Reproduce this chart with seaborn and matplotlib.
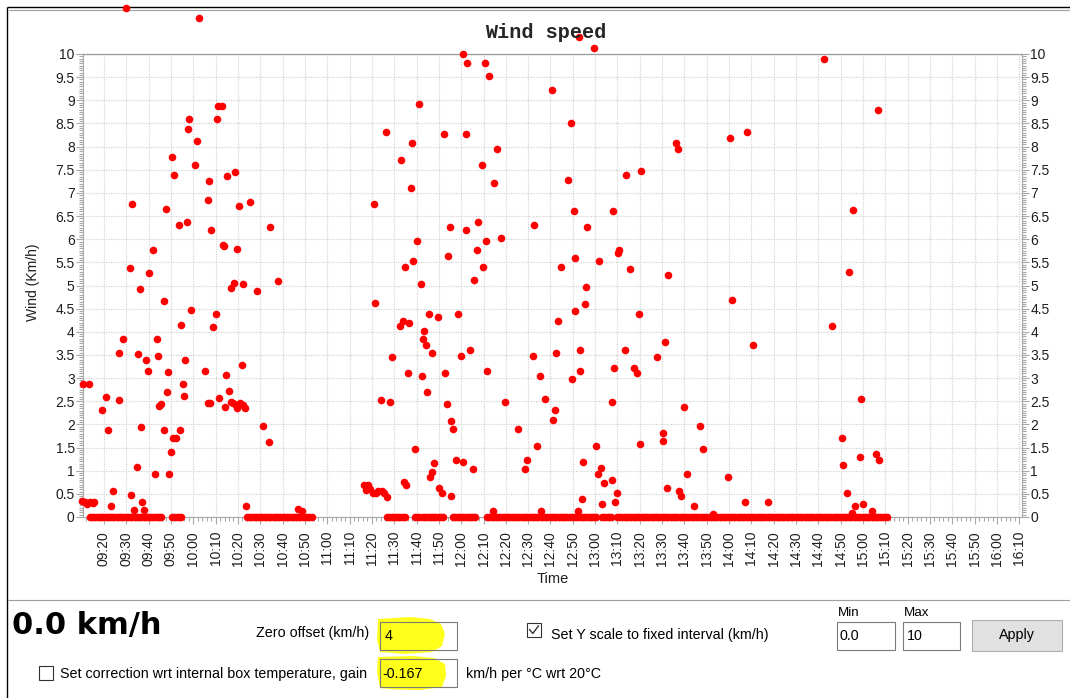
import numpy as np
import pandas as pd
import matplotlib
matplotlib.use("Agg")
import matplotlib.pyplot as plt
import matplotlib.dates as mdates
from matplotlib.ticker import MultipleLocator, FuncFormatter
from matplotlib.patches import Rectangle, Polygon
import seaborn as sns

# ---------------------------------------------------------------------------
# Wind readings (km/h) logged during the session
# ---------------------------------------------------------------------------
morning_times = [
    "09:10:06", "09:10:24", "09:11:30", "09:12:30", "09:13:24", "09:13:42", "09:14:54", "09:15:36",
    "09:19:06", "09:20:54", "09:21:54", "09:23:06", "09:23:54", "09:26:36", "09:26:54", "09:28:42",
    "09:29:54", "09:31:36", "09:32:12", "09:32:42", "09:33:36", "09:34:36", "09:35:06", "09:36:00",
    "09:36:36", "09:37:00", "09:37:48", "09:38:42", "09:39:30", "09:40:12", "09:42:00", "09:43:00",
    "09:43:36", "09:44:18", "09:44:48", "09:45:42", "09:46:42", "09:47:00", "09:47:54", "09:48:06",
    "09:48:30", "09:49:06", "09:49:54", "09:50:30", "09:50:54", "09:51:30", "09:52:24", "09:53:30",
    "09:54:12", "09:54:36", "09:55:12", "09:55:48", "09:56:24", "09:57:00", "09:57:30", "09:58:12",
    "09:58:48", "10:00:36", "10:01:48", "10:02:24", "10:05:24", "10:06:30", "10:06:42", "10:07:12",
    "10:07:36", "10:07:48", "10:09:00", "10:10:12", "10:10:48", "10:11:12", "10:11:30", "10:12:42",
    "10:13:12", "10:13:54", "10:14:06", "10:14:30", "10:15:06", "10:15:54", "10:16:54", "10:17:00",
    "10:17:42", "10:18:06", "10:18:42", "10:19:06", "10:19:24", "10:19:42", "10:20:30", "10:20:54",
    "10:21:42", "10:22:06", "10:22:24", "10:23:18", "10:23:36", "10:25:24", "10:28:24", "10:31:24",
    "10:33:54", "10:34:30", "10:38:06", "10:47:06", "10:48:36",
]
morning_speeds = [
    0.35, 2.87, 0.32, 0.28, 2.87, 0.33, 0.30, 0.32,
    2.32, 2.59, 1.88, 0.24, 0.57, 3.55, 2.53, 3.84,
    10.99, 5.38, 0.48, 6.75, 0.16, 1.09, 3.51, 4.92,
    1.94, 0.33, 0.16, 3.39, 3.15, 5.26, 5.76, 0.92,
    3.84, 3.48, 2.40, 2.43, 1.88, 4.67, 6.66, 2.70,
    3.13, 0.92, 1.41, 7.77, 1.70, 7.39, 1.70, 6.31,
    1.88, 4.15, 2.87, 2.61, 3.39, 6.37, 8.38, 8.59,
    4.47, 7.60, 8.12, 10.77, 3.16, 2.46, 6.84, 7.25,
    2.46, 6.20, 4.10, 4.39, 8.59, 8.88, 2.58, 8.88,
    5.88, 5.85, 2.38, 3.07, 7.37, 2.73, 4.95, 2.49,
    2.46, 5.06, 7.45, 2.41, 5.79, 2.35, 6.72, 2.46,
    3.28, 2.41, 5.03, 2.35, 0.24, 6.80, 4.89, 1.97,
    1.61, 6.26, 5.09, 0.17, 0.13,
]

midday_times = [
    "11:16:36", "11:17:24", "11:18:24", "11:19:12", "11:20:42", "11:21:00", "11:21:12", "11:21:54",
    "11:22:54", "11:24:00", "11:24:24", "11:25:24", "11:26:18", "11:26:54", "11:28:06", "11:28:54",
    "11:32:36", "11:33:00", "11:33:48", "11:34:30", "11:35:00", "11:35:30", "11:36:18", "11:36:48",
    "11:37:24", "11:37:54", "11:38:36", "11:39:30", "11:40:24", "11:41:00", "11:42:12", "11:42:24",
    "11:42:42", "11:43:24", "11:44:06", "11:44:36", "11:45:42", "11:46:00", "11:46:48", "11:47:00",
    "11:48:00", "11:49:30", "11:50:06", "11:51:18", "11:52:30", "11:52:42", "11:53:48", "11:54:18",
    "11:54:54", "11:55:18", "11:55:30", "11:56:18", "11:57:42", "11:58:36", "11:59:48", "12:00:48",
    "12:00:54", "12:02:00", "12:02:12", "12:02:48", "12:04:00", "12:05:12", "12:05:48", "12:06:54",
    "12:07:24", "12:09:24", "12:09:54", "12:10:36", "12:11:06", "12:11:42", "12:12:24", "12:14:06",
    "12:14:42", "12:15:54", "12:17:42", "12:19:30",
]
midday_speeds = [
    0.69, 0.58, 0.69, 0.60, 0.52, 6.75, 4.63, 0.52,
    0.57, 2.52, 0.57, 0.52, 8.32, 0.44, 2.49, 3.46,
    4.13, 7.71, 4.24, 0.75, 5.41, 0.69, 3.10, 4.18,
    7.10, 8.07, 5.53, 1.47, 5.97, 8.91, 5.03, 3.05,
    3.84, 4.01, 3.72, 2.69, 4.38, 0.86, 0.97, 3.54,
    1.17, 4.33, 0.63, 0.51, 8.27, 3.10, 2.43, 5.64,
    6.26, 0.45, 2.08, 1.91, 1.23, 4.38, 3.48, 10.01,
    1.18, 8.27, 6.20, 9.81, 3.60, 1.03, 5.12, 5.76,
    6.37, 7.60, 5.41, 9.81, 5.97, 3.16, 9.52, 0.13,
    7.21, 7.95, 6.03, 2.49,
]

afternoon_times = [
    "12:25:36", "12:28:36", "12:29:18", "12:32:12", "12:32:24", "12:34:00", "12:35:18", "12:35:36",
    "12:37:42", "12:40:42", "12:41:18", "12:42:06", "12:42:36", "12:43:12", "12:44:54", "12:48:00",
    "12:49:12", "12:49:48", "12:50:36", "12:50:48", "12:51:12", "12:52:12", "12:52:42", "12:53:00",
    "12:53:24", "12:54:06", "12:54:30", "12:55:30", "12:56:00", "12:56:12", "12:59:30", "13:00:36",
    "13:01:12", "13:01:54", "13:02:30", "13:03:06", "13:03:48", "13:07:24", "13:07:36", "13:07:54",
    "13:08:36", "13:09:00", "13:09:42", "13:10:18", "13:10:54", "13:13:24", "13:13:54", "13:15:48",
    "13:17:36", "13:18:48", "13:19:30", "13:20:00", "13:20:42", "13:27:54", "13:30:18", "13:30:30",
    "13:31:30", "13:32:00", "13:32:48", "13:36:18", "13:37:00", "13:37:24", "13:38:24", "13:40:00",
    "13:41:06", "13:44:06", "13:47:00", "13:48:30", "13:52:42", "13:59:24", "14:00:30", "14:01:12",
    "14:07:12", "14:07:48", "14:10:48", "14:17:36", "14:42:18", "14:46:00", "14:50:36", "14:50:54",
    "14:53:00", "14:53:48", "14:54:54", "14:55:36", "14:56:12", "14:58:42", "14:59:18", "14:59:54",
    "15:04:06", "15:05:42", "15:06:30", "15:07:06",
]
afternoon_speeds = [
    1.91, 1.03, 1.23, 3.48, 6.31, 1.53, 3.05, 0.13,
    2.55, 9.23, 2.09, 2.32, 3.54, 4.24, 5.41, 7.27,
    8.50, 2.99, 6.61, 5.59, 4.44, 0.14, 10.37, 3.16,
    3.60, 0.39, 1.18, 4.61, 4.97, 6.26, 10.14, 1.53,
    0.92, 5.53, 1.06, 0.27, 0.74, 0.80, 2.49, 6.61,
    3.22, 0.33, 0.51, 5.70, 5.76, 3.60, 7.39, 5.35,
    3.22, 3.10, 4.38, 1.58, 7.48, 3.46, 1.82, 1.64,
    3.77, 0.63, 5.23, 8.07, 7.95, 0.57, 0.45, 2.38,
    0.92, 0.24, 1.97, 1.47, 0.06, 0.86, 8.18, 4.68,
    0.33, 8.32, 3.71, 0.33, 9.90, 4.13, 1.70, 1.12,
    0.51, 5.29, 0.08, 6.63, 0.24, 1.30, 2.55, 0.28,
    0.14, 1.36, 8.79, 1.23,
]

# Stretches where every logged reading was 0 km/h (one reading per minute)
calm_spans = [
    ("09:13:42", "09:46:00"),
    ("09:50:30", "09:55:00"),
    ("10:24:00", "10:53:36"),
    ("11:26:48", "11:34:54"),
    ("11:39:18", "11:41:36"),
    ("11:42:54", "11:52:48"),
    ("11:56:24", "12:07:06"),
    ("12:11:36", "13:01:18"),
    ("13:03:06", "13:07:36"),
    ("13:09:48", "15:10:48"),
]
log_interval = "1min"

time_window = ("09:10:36", "16:11:12")
y_scale_min, y_scale_max = 0.0, 10.0

# Form fields shown under the chart
current_speed = "0.0 km/h"
zero_offset = "4"
temperature_gain = "-0.167"
y_min_field = "0.0"
y_max_field = "10"

# ---------------------------------------------------------------------------
day = "1900-01-01 "


def stamp(t):
    return pd.Timestamp(day + t)


gusts = pd.DataFrame({
    "time": [stamp(t) for t in morning_times + midday_times + afternoon_times],
    "speed": morning_speeds + midday_speeds + afternoon_speeds,
})
calm_times = np.concatenate([
    pd.date_range(stamp(a), stamp(b), freq=log_interval).values for a, b in calm_spans
])
calm = pd.DataFrame({"time": pd.to_datetime(calm_times), "speed": 0.0})
readings = pd.concat([gusts, calm], ignore_index=True).sort_values("time")

sns.set_theme(style="white")
plt.rcParams["font.family"] = ["Liberation Sans", "DejaVu Sans"]

W, H = 1070, 698
fig = plt.figure(figsize=(W / 100, H / 100), dpi=100)
fig.patch.set_facecolor("white")


def fx(px):
    return px / W


def fy(py):
    return 1 - py / H


# Overlay in pixel units for the window chrome and the form controls
ui = fig.add_axes([0, 0, 1, 1])
ui.set_xlim(0, W)
ui.set_ylim(H, 0)
ui.axis("off")
ui.patch.set_visible(False)

# Chart axes
ax = fig.add_axes([fx(83), fy(517), fx(1022) - fx(83), fy(54) - fy(517)])
ax.set_facecolor("white")

sns.scatterplot(data=readings, x="time", y="speed", ax=ax, color="#ff0000",
                s=30, linewidth=0, legend=False, clip_on=False, zorder=3)

ax.set_xlim(stamp(time_window[0]), stamp(time_window[1]))
ax.set_ylim(y_scale_min, y_scale_max)

ax.xaxis.set_major_locator(mdates.MinuteLocator(byminute=range(0, 60, 10)))
ax.xaxis.set_minor_locator(mdates.MinuteLocator(byminute=range(0, 60, 2)))
ax.xaxis.set_major_formatter(mdates.DateFormatter("%H:%M"))
ax.yaxis.set_major_locator(MultipleLocator(0.5))
ax.yaxis.set_minor_locator(MultipleLocator(0.05))
ax.yaxis.set_major_formatter(FuncFormatter(lambda v, p: f"{v:g}"))

tick_grey = "#a8a8a8"
ax.tick_params(axis="both", which="both", direction="out", color=tick_grey,
               labelcolor="#1e1e1e", labelsize=10)
ax.tick_params(axis="both", which="major", length=5, width=0.8)
ax.tick_params(axis="both", which="minor", length=3, width=0.8)
ax.tick_params(axis="y", which="both", left=True, right=True,
               labelleft=True, labelright=True, pad=1)
ax.tick_params(axis="x", which="both", bottom=True, labelrotation=90, pad=5)

ax.grid(True, which="major", color="#d4d4d4", linestyle=(0, (1, 1)), linewidth=0.9)
for side in ("left", "bottom", "right"):
    ax.spines[side].set_color(tick_grey)
    ax.spines[side].set_linewidth(0.8)
ax.spines["top"].set_color("#9a9a9a")
ax.spines["top"].set_linestyle((0, (1, 1)))
ax.spines["top"].set_linewidth(0.9)

ax.set_xlabel("Time", fontsize=10.5, color="#1e1e1e")
ax.xaxis.set_label_coords((553 - 83) / 939, (517 - 579) / 463)
ax.xaxis.label.set_va("center")
ax.set_ylabel("Wind (Km/h)", fontsize=10, color="#1e1e1e")
ax.yaxis.set_label_coords((33.5 - 83) / 939, (517 - 282.5) / 463)
ax.yaxis.label.set_va("center")

ax.set_title("Wind speed", family="Liberation Mono", fontweight="bold",
             fontsize=14.5, x=(546 - 83) / 939, y=(517 - 37.5) / 463, pad=0,
             va="baseline")

# ---------------------------------------------------------------------------
# Window frame
ui.plot([7, W], [7, 7], color="black", lw=1.0, solid_capstyle="butt")
ui.plot([8.5, W], [9.5, 9.5], color="#a0a0a0", lw=0.8)
ui.plot([7, 7], [7, H], color="black", lw=1.0, solid_capstyle="butt")
ui.plot([8, W], [599.5, 599.5], color="#a0a0a0", lw=0.8)

ctl_font = 10.3
box_edge = "#7a7a7a"
highlight = "#ffff1a"

# Big live readout
ui.text(12, 634, current_speed, family="DejaVu Sans", fontweight="bold",
        fontsize=22, va="baseline", ha="left", color="black")

# Zero offset
ui.text(256.5, 637, "Zero offset (km/h)", fontsize=ctl_font, va="baseline", color="black")
ui.add_patch(Polygon([(378, 619), (410, 617), (430, 619), (441, 624), (445, 634),
                      (442, 646), (432, 652), (405, 654), (380, 652), (377, 640)],
                     closed=True, fc=highlight, ec="none", zorder=1))
ui.add_patch(Rectangle((380, 622), 77, 28, fill=False, ec=box_edge, lw=0.8, zorder=2))
ui.text(385, 636.5, zero_offset, fontsize=ctl_font, va="center", color="black", zorder=3)

# Temperature correction row
ui.add_patch(Rectangle((39, 665.5), 14, 14, fc="white", ec="#333333", lw=0.8))
ui.text(60.3, 674, "Set correction wrt internal box temperature, gain",
        fontsize=ctl_font, va="center", color="black")
ui.add_patch(Polygon([(378, 657), (412, 656), (434, 658), (445, 664), (446, 676),
                      (442, 687), (420, 690), (395, 689.5), (380, 688), (377, 672)],
                     closed=True, fc=highlight, ec="none", zorder=1))
ui.add_patch(Rectangle((380, 659), 77, 28, fill=False, ec=box_edge, lw=0.8, zorder=2))
ui.text(382.5, 673.5, temperature_gain, fontsize=ctl_font, va="center", color="black", zorder=3)
ui.text(465.6, 674, "km/h per \u00b0C wrt 20\u00b0C", fontsize=ctl_font, va="center", color="black")

# Fixed Y scale controls
ui.add_patch(Rectangle((527, 623), 13.5, 13.5, fc="white", ec="#333333", lw=0.8))
ui.plot([529.5, 532.8, 538.5], [629.5, 633.5, 625.8], color="#333333", lw=1.0)
ui.text(550.7, 635.5, "Set Y scale to fixed interval (km/h)", fontsize=ctl_font,
        va="center", color="black")
ui.text(838, 613.5, "Min", fontsize=9.6, va="center", color="black")
ui.text(903.6, 613.5, "Max", fontsize=9.6, va="center", color="black")
ui.add_patch(Rectangle((836.5, 622), 58, 28, fc="white", ec=box_edge, lw=0.8))
ui.text(840, 636.5, y_min_field, fontsize=ctl_font, va="center", color="black")
ui.add_patch(Rectangle((903, 622), 57, 28, fc="white", ec=box_edge, lw=0.8))
ui.text(906.5, 636.5, y_max_field, fontsize=ctl_font, va="center", color="black")
ui.add_patch(Rectangle((972, 619.5), 90, 31, fc="#e1e1e1", ec="#adadad", lw=0.8))
ui.text(1017, 635.5, "Apply", fontsize=ctl_font, va="center", ha="center", color="black")

fig.savefig("out.png", dpi=100, facecolor="white")
